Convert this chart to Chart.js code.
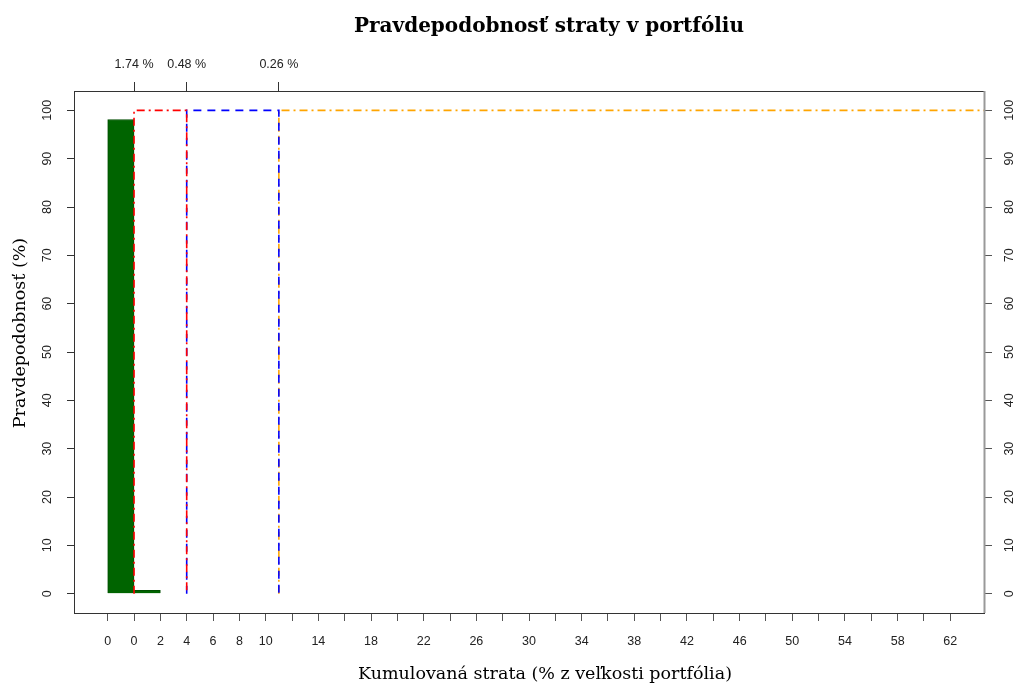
<!DOCTYPE html>
<html>
<head>
<meta charset="utf-8">
<script src="https://cdn.jsdelivr.net/npm/chart.js@4/dist/chart.umd.min.js"></script>
<style>
  html, body { margin: 0; padding: 0; background: #fff; }
  #wrap { width: 1018px; height: 685px; position: relative; }
</style>
</head>
<body>
<div id="wrap"><canvas id="lossChart" width="1018" height="685"></canvas></div>
<script>
// bin labels along the bottom axis (one per tick, bin edges)
const binLabels = ['0', '0', '2', '4', '6', '8', '10', '12', '14', '16', '18', '20', '22', '24', '26',
  '28', '30', '32', '34', '36', '38', '40', '42', '44', '46', '48', '50', '52', '54', '56', '58', '60', '62'];
// probability (%) of each bin, bin i lies between tick i and tick i+1
const binProb = [98.1, 0.7];
// VaR markers (position in tick units) and their labels on the top axis
const varPos = [1, 3, 6.5];
const varLabels = ['1.74 %', '0.48 %', '0.26 %'];
const yTicks = [0, 10, 20, 30, 40, 50, 60, 70, 80, 90, 100];

(function() {
    const X_MIN = -1.28, X_MAX = 33.28;
    const tickFont = { family: '"Liberation Sans", Arial, sans-serif', size: 12.5 };

    const bars = binProb.map((p, i) => ({ x: i + 0.5, y: p }));
    const redLine = [{ x: varPos[0], y: 0 }, { x: varPos[0], y: 100 }, { x: varPos[1], y: 100 }, { x: varPos[1], y: 0 }];
    const blueLine = [{ x: varPos[1], y: 0 }, { x: varPos[1], y: 100 }, { x: varPos[2], y: 100 }, { x: varPos[2], y: 0 }];
    const orangeLine = [{ x: varPos[2], y: 0 }, { x: varPos[2], y: 100 }, { x: X_MAX, y: 100 }];

    const lineDs = (data, color, dash) => ({
        type: 'line',
        data: data,
        borderColor: color,
        borderWidth: 1.6,
        borderDash: dash,
        pointRadius: 0,
        fill: false,
        tension: 0,
        order: 0
    });

    // draws box, rotated y tick labels and titles
    const decorations = {
        id: 'decorations',
        afterDraw(chart) {
            const ctx = chart.ctx;
            const a = chart.chartArea;
            ctx.save();
            ctx.strokeStyle = '#333';
            ctx.lineWidth = 1;
            ctx.strokeRect(a.left + 0.5, a.top + 0.5, a.right - a.left, a.bottom - a.top);
            ctx.strokeStyle = '#999';
            ctx.lineWidth = 2;
            ctx.beginPath();
            ctx.moveTo(a.right + 0.5, a.top);
            ctx.lineTo(a.right + 0.5, a.bottom);
            ctx.stroke();

            // y tick labels, rotated, on both sides
            ctx.fillStyle = '#222';
            ctx.font = tickFont.size + 'px ' + tickFont.family;
            ctx.textAlign = 'center';
            ctx.textBaseline = 'middle';
            const yScale = chart.scales.y;
            yTicks.forEach(v => {
                const py = yScale.getPixelForValue(v);
                [48, 1010].forEach(px => {
                    ctx.save();
                    ctx.translate(px, py);
                    ctx.rotate(-Math.PI / 2);
                    ctx.fillText(String(v), 0, 0);
                    ctx.restore();
                });
            });

            // titles
            ctx.fillStyle = '#000';
            ctx.font = 'bold 20px "DejaVu Serif", "Liberation Serif", serif';
            ctx.fillText('Pravdepodobnosť straty v portfóliu', 549, 27);
            ctx.font = '17.5px "DejaVu Serif", "Liberation Serif", serif';
            ctx.fillText('Kumulovaná strata (% z veľkosti portfólia)', 545, 674);
            ctx.save();
            ctx.translate(20, 333);
            ctx.rotate(-Math.PI / 2);
            ctx.fillText('Pravdepodobnosť (%)', 0, 0);
            ctx.restore();
            ctx.restore();
        }
    };

    const ctx = document.getElementById('lossChart');
    new Chart(ctx, {
        type: 'bar',
        data: {
            datasets: [
                {
                    type: 'bar',
                    data: bars,
                    backgroundColor: '#006400',
                    borderColor: '#004d00',
                    borderWidth: 1,
                    barPercentage: 1,
                    categoryPercentage: 1,
                    order: 1
                },
                lineDs(redLine, '#ff0000', [8, 4, 2, 4]),
                lineDs(blueLine, '#0000ff', [8, 6]),
                lineDs(orangeLine, '#ffa500', [8, 4, 2, 4])
            ]
        },
        options: {
            responsive: false,
            animation: false,
            layout: { padding: 0 },
            plugins: {
                legend: { display: false },
                tooltip: { enabled: false },
                title: { display: false }
            },
            scales: {
                x: {
                    type: 'linear',
                    position: 'bottom',
                    min: X_MIN,
                    max: X_MAX,
                    offset: false,
                    afterBuildTicks: s => { s.ticks = binLabels.map((_, i) => ({ value: i })); },
                    afterFit: s => { s.height = 72; },
                    ticks: {
                        autoSkip: false,
                        maxRotation: 0,
                        padding: 13,
                        color: '#222',
                        font: tickFont,
                        callback: v => {
                            const lab = binLabels[v];
                            const n = Number(lab);
                            return (n > 10 && n % 4 !== 2) ? '' : lab;
                        }
                    },
                    grid: { offset: false, drawOnChartArea: false, tickLength: 8, color: '#555', tickColor: '#555' },
                    border: { display: false }
                },
                x2: {
                    type: 'linear',
                    position: 'top',
                    min: X_MIN,
                    max: X_MAX,
                    offset: false,
                    afterBuildTicks: s => { s.ticks = varPos.map(v => ({ value: v })); },
                    afterFit: s => { s.height = 91; },
                    ticks: {
                        autoSkip: false,
                        maxRotation: 0,
                        padding: 10,
                        color: '#222',
                        font: tickFont,
                        callback: v => varLabels[varPos.indexOf(v)]
                    },
                    grid: { offset: false, drawOnChartArea: false, tickLength: 9, color: '#333', tickColor: '#333' },
                    border: { display: false }
                },
                y: {
                    type: 'linear',
                    position: 'left',
                    min: -4,
                    max: 104,
                    afterBuildTicks: s => { s.ticks = yTicks.map(v => ({ value: v })); },
                    afterFit: s => { s.width = 74; },
                    ticks: { display: false },
                    grid: { drawOnChartArea: false, tickLength: 7, color: '#333', tickColor: '#333' },
                    border: { display: false }
                },
                y2: {
                    type: 'linear',
                    position: 'right',
                    min: -4,
                    max: 104,
                    afterBuildTicks: s => { s.ticks = yTicks.map(v => ({ value: v })); },
                    afterFit: s => { s.width = 34; },
                    ticks: { display: false },
                    grid: { drawOnChartArea: false, tickLength: 8, color: '#555', tickColor: '#555' },
                    border: { display: false }
                }
            }
        },
        plugins: [decorations]
    });
})();
</script>
</body>
</html>
